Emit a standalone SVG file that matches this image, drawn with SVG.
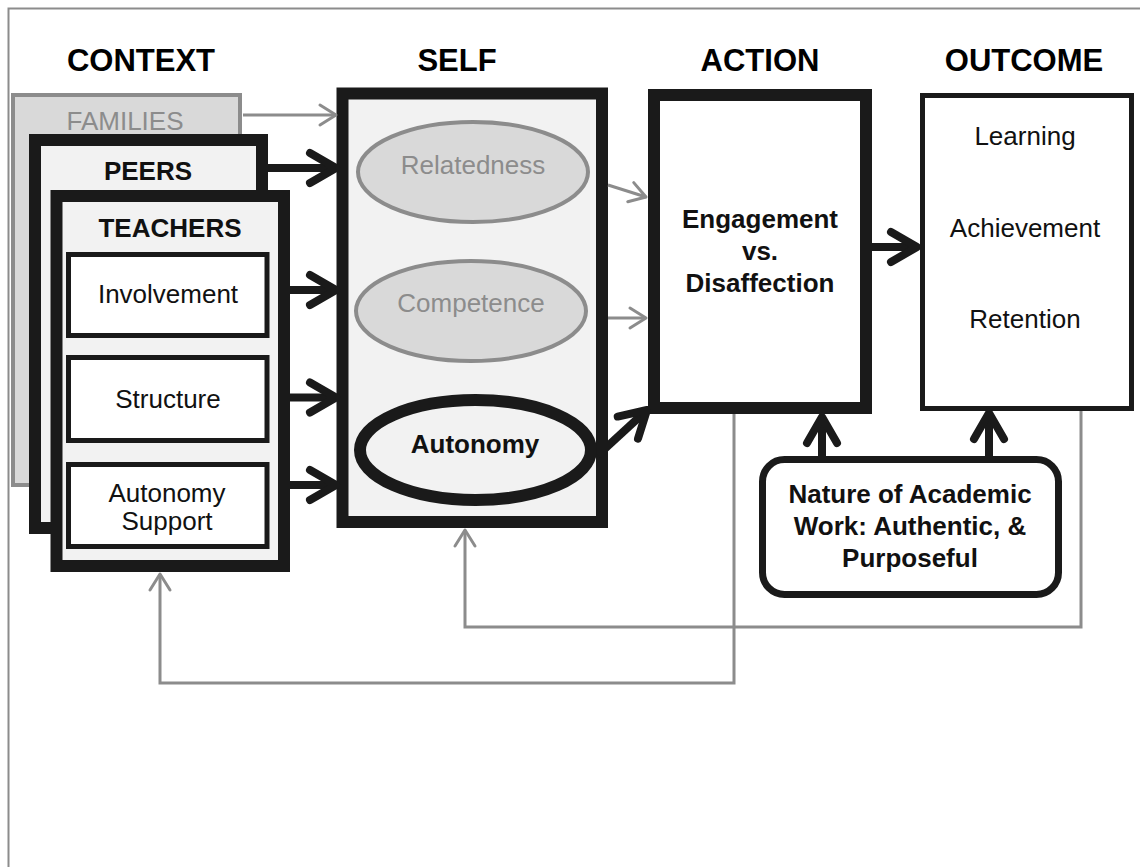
<svg xmlns="http://www.w3.org/2000/svg" width="1140" height="867" viewBox="0 0 1140 867">
<style>
text{font-family:"Liberation Sans",Arial,sans-serif;text-anchor:middle}
.hdr{font-size:31px;font-weight:bold;fill:#000}
.t{font-size:26px;fill:#111}
.b{font-size:26px;font-weight:bold;fill:#111}
.g{font-size:26px;fill:#8c8c8c}
.blk{stroke:#1a1a1a;stroke-width:12;fill:#f2f2f2}
.thin{stroke:#1a1a1a;stroke-width:5;fill:#fff}
.gl{stroke:#8c8c8c;stroke-width:3;fill:none}
.bl{stroke:#1a1a1a;stroke-width:8;fill:none}
</style>
<defs>
<marker id="ab" markerUnits="userSpaceOnUse" orient="auto" markerWidth="60" markerHeight="60" viewBox="-40 -30 60 60" refX="0" refY="0" overflow="visible">
<path d="M-26,-15 L0,0 L-26,15" fill="none" stroke="#1a1a1a" stroke-width="8" stroke-linecap="round" stroke-linejoin="round"/>
</marker>
<marker id="ag" markerUnits="userSpaceOnUse" orient="auto" markerWidth="40" markerHeight="40" viewBox="-30 -20 40 40" refX="0" refY="0" overflow="visible">
<path d="M-16,-10 L0,0 L-16,10" fill="none" stroke="#8c8c8c" stroke-width="3" stroke-linecap="round" stroke-linejoin="round"/>
</marker>
</defs>
<rect width="1140" height="867" fill="#fff"/>
<rect x="8.5" y="8.5" width="1200" height="1000" fill="none" stroke="#8c8c8c" stroke-width="2"/>
<g id="headers">
<text class="hdr" x="141" y="71">CONTEXT</text>
<text class="hdr" x="457" y="71">SELF</text>
<text class="hdr" x="760" y="71">ACTION</text>
<text class="hdr" x="1024" y="71">OUTCOME</text>
</g>
<g id="families">
<rect x="13" y="95" width="227" height="390" fill="#d9d9d9" stroke="#8c8c8c" stroke-width="4"/>
<text class="g" x="125" y="130">FAMILIES</text>
</g>
<g id="peers">
<rect class="blk" x="35" y="140" width="227" height="388"/>
<text class="b" x="148" y="180">PEERS</text>
</g>
<g id="teachers">
<rect class="blk" x="56.5" y="196" width="227.5" height="370"/>
<text class="b" x="170" y="237">TEACHERS</text>
</g>
<g id="involvement">
<rect class="thin" x="68.5" y="254.5" width="198.5" height="81"/>
<text class="t" x="168" y="303">Involvement</text>
</g>
<g id="structure">
<rect class="thin" x="68.5" y="357.5" width="198.5" height="83"/>
<text class="t" x="168" y="408">Structure</text>
</g>
<g id="autonomy-support">
<rect class="thin" x="68.5" y="464.5" width="198.5" height="82"/>
<text class="t" x="167" y="502">Autonomy</text>
<text class="t" x="167" y="530">Support</text>
</g>
<g id="self">
<rect class="blk" x="342.5" y="93.5" width="259.5" height="428.5"/>
</g>
<g id="relatedness">
<ellipse cx="473" cy="172" rx="115" ry="50" fill="#d9d9d9" stroke="#8c8c8c" stroke-width="4"/>
<text class="g" x="473" y="174">Relatedness</text>
</g>
<g id="competence">
<ellipse cx="471" cy="311" rx="115" ry="50" fill="#d9d9d9" stroke="#8c8c8c" stroke-width="4"/>
<text class="g" x="471" y="312">Competence</text>
</g>
<g id="autonomy">
<ellipse cx="475.5" cy="450" rx="115.5" ry="50" fill="#f2f2f2" stroke="#1a1a1a" stroke-width="12"/>
<text class="b" x="475" y="453">Autonomy</text>
</g>
<g id="engagement">
<rect x="654" y="95" width="212" height="313" fill="#fff" stroke="#1a1a1a" stroke-width="12"/>
<text class="b" x="760" y="228">Engagement</text>
<text class="b" x="760" y="260">vs.</text>
<text class="b" x="760" y="292">Disaffection</text>
</g>
<g id="outcome">
<rect x="922.5" y="95.5" width="209" height="313" fill="#fff" stroke="#1a1a1a" stroke-width="5"/>
<text class="t" x="1025" y="145">Learning</text>
<text class="t" x="1025" y="237">Achievement</text>
<text class="t" x="1025" y="328">Retention</text>
</g>
<g id="nature">
<rect x="762.5" y="459.5" width="296" height="135" rx="22" fill="#fff" stroke="#1a1a1a" stroke-width="7"/>
<text class="b" x="910" y="503">Nature of Academic</text>
<text class="b" x="910" y="535">Work: Authentic, &amp;</text>
<text class="b" x="910" y="567">Purposeful</text>
</g>
<g id="connectors">
<line class="gl" x1="243" y1="115" x2="336" y2="115" marker-end="url(#ag)"/>
<line class="bl" x1="268" y1="168" x2="336" y2="168" marker-end="url(#ab)"/>
<line class="bl" x1="290" y1="290" x2="336" y2="290" marker-end="url(#ab)"/>
<line class="bl" x1="290" y1="397.5" x2="336" y2="397.5" marker-end="url(#ab)"/>
<line class="bl" x1="290" y1="485" x2="336" y2="485" marker-end="url(#ab)"/>
<line class="gl" x1="608" y1="185" x2="646" y2="197" marker-end="url(#ag)"/>
<line class="gl" x1="608" y1="318" x2="646" y2="318" marker-end="url(#ag)"/>
<line class="bl" x1="598" y1="455" x2="647" y2="410" marker-end="url(#ab)"/>
<line class="bl" x1="872" y1="247" x2="917" y2="247" marker-end="url(#ab)"/>
<line class="bl" x1="822" y1="456" x2="822" y2="417" marker-end="url(#ab)"/>
<line class="bl" x1="989" y1="456" x2="989" y2="413" marker-end="url(#ab)"/>
<polyline class="gl" points="1081,411 1081,627 465,627 465,530" marker-end="url(#ag)"/>
<polyline class="gl" points="734,414 734,683 160,683 160,574" marker-end="url(#ag)"/>
</g>
</svg>
